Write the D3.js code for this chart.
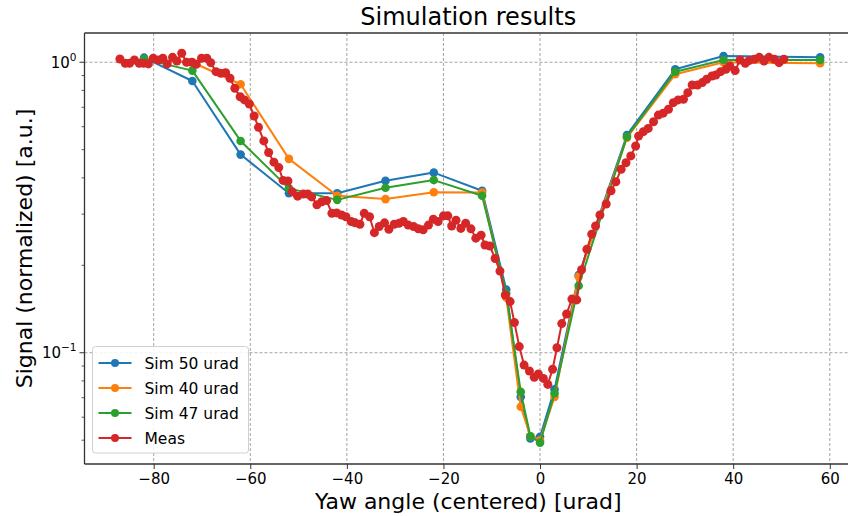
<!DOCTYPE html>
<html>
<head>
<meta charset="utf-8">
<script src="https://cdn.jsdelivr.net/npm/d3@7"></script>
<style>
  html, body { margin: 0; padding: 0; background: #fff; }
  svg { display: block; font-family: "DejaVu Sans", sans-serif; }
</style>
</head>
<body>
<svg id="chart" width="848" height="516"></svg>
<script>
// ---------------- data ----------------
const xTicks = [-80, -60, -40, -20, 0, 20, 40, 60];
const yMajorTicks = [0.1, 1];
const yMajorLabels = [["10", "−1"], ["10", "0"]];
const yMinorTicks = [0.05, 0.06, 0.07, 0.08, 0.09, 0.2, 0.3, 0.4, 0.5, 0.6, 0.7, 0.8, 0.9];

const simX = [-82, -72, -62, -52, -42, -32, -22, -12, -7, -4, -2, 0, 3, 8, 18, 28, 38, 58];
const sim50 = [1.037, 0.862, 0.481, 0.354, 0.354, 0.391, 0.417, 0.361, 0.165, 0.0705, 0.0507, 0.0514, 0.0748, 0.185, 0.562, 0.946, 1.051, 1.040];
const sim40 = [1.020, 1.000, 0.840, 0.465, 0.347, 0.338, 0.357, 0.356, 0.155, 0.0652, 0.0516, 0.0500, 0.0705, 0.183, 0.550, 0.909, 1.000, 0.992];
const sim47 = [1.025, 0.936, 0.536, 0.368, 0.336, 0.370, 0.393, 0.347, 0.160, 0.0734, 0.0516, 0.0490, 0.0725, 0.170, 0.554, 0.928, 1.018, 1.018];

const measX = [
  -87.0, -85.9, -85.0, -84.0, -83.0, -82.1, -81.1, -80.1, -79.0, -78.1,
  -77.2, -76.1, -75.2, -74.2, -73.2, -72.1, -71.2, -70.1, -69.0, -68.2,
  -67.1, -66.1, -65.1, -64.2, -63.2, -62.1, -61.2, -60.2, -59.2, -58.3,
  -57.2, -56.2, -55.1, -54.1, -53.2, -52.2, -51.3, -50.2, -49.0, -48.1,
  -47.3, -46.2, -45.2, -44.2, -43.1, -42.1, -41.1, -40.2, -39.1, -38.3,
  -37.3, -36.4, -35.3, -34.3, -33.3, -32.2, -31.3, -30.2, -29.2, -28.3,
  -27.3, -26.2, -25.2, -24.2, -23.1, -22.1, -21.1, -20.0, -19.1, -18.3,
  -17.4, -16.4, -15.4, -14.3, -13.3, -12.2, -11.4, -10.4, -9.3, -8.3,
  -7.2, -6.2, -5.3, -4.3, -3.3, -2.2, -1.2, -0.35, 0.7, 1.6,
  2.6, 3.5, 4.5, 5.5, 6.6, 7.6, 8.6, 9.7, 10.7, 11.5,
  12.4, 13.7, 14.7, 15.7, 16.8, 17.8, 18.8, 19.8, 20.4, 21.4,
  22.4, 23.5, 24.5, 25.5, 26.6, 27.6, 28.6, 29.7, 30.6, 31.5,
  32.6, 33.6, 34.5, 35.6, 36.4, 37.4, 38.5, 39.3, 40.4, 41.4,
  42.5, 43.3, 44.4, 45.4, 46.4, 47.4, 48.5, 49.5, 50.5
];
const measY = [
  1.026, 0.992, 0.992, 1.018, 0.992, 0.992, 0.987, 1.032, 1.018, 1.032,
  0.987, 1.040, 1.010, 1.074, 1.000, 1.000, 0.984, 1.032, 1.032, 0.997,
  0.928, 0.916, 0.921, 0.881, 0.814, 0.761, 0.742, 0.718, 0.653, 0.597,
  0.536, 0.489, 0.453, 0.434, 0.392, 0.390, 0.358, 0.346, 0.352, 0.352,
  0.344, 0.323, 0.331, 0.334, 0.302, 0.303, 0.298, 0.294, 0.283, 0.280,
  0.277, 0.302, 0.294, 0.259, 0.272, 0.280, 0.266, 0.277, 0.279, 0.283,
  0.275, 0.272, 0.267, 0.265, 0.275, 0.288, 0.283, 0.296, 0.296, 0.273,
  0.286, 0.268, 0.279, 0.267, 0.248, 0.254, 0.235, 0.233, 0.211, 0.191,
  0.158, 0.150, 0.127, 0.105, 0.0907, 0.0865, 0.0823, 0.0845, 0.0816, 0.0778,
  0.0877, 0.104, 0.126, 0.136, 0.153, 0.152, 0.193, 0.227, 0.256, 0.273,
  0.298, 0.325, 0.361, 0.388, 0.428, 0.451, 0.476, 0.515, 0.557, 0.577,
  0.592, 0.624, 0.658, 0.668, 0.689, 0.726, 0.742, 0.746, 0.786, 0.835,
  0.835, 0.851, 0.874, 0.897, 0.904, 0.928, 0.946, 0.971, 0.936, 1.018,
  0.992, 1.013, 1.024, 1.040, 1.010, 1.040, 1.024, 0.997, 1.024
];

const seriesNames = ["Sim 50 urad", "Sim 40 urad", "Sim 47 urad", "Meas"];
const seriesColors = ["#1f77b4", "#ff7f0e", "#2ca02c", "#d62728"];

const titleText = "Simulation results";
const xLabelText = "Yaw angle (centered) [urad]";
const yLabelText = "Signal (normalized) [a.u.]";

// ---------------- layout ----------------
const plot = { left: 84.5, right: 852, top: 33, bottom: 464 };
const svg = d3.select("#chart");

const x = d3.scaleLinear().domain([-94.33, 64.6]).range([plot.left, plot.right]);
const y = d3.scaleLog().domain([0.0414, 1.261]).range([plot.bottom, plot.top]);

const series = [
  { name: seriesNames[0], color: seriesColors[0], pts: simX.map((v, i) => [v, sim50[i]]), r: 4.3 },
  { name: seriesNames[1], color: seriesColors[1], pts: simX.map((v, i) => [v, sim40[i]]), r: 4.3 },
  { name: seriesNames[2], color: seriesColors[2], pts: simX.map((v, i) => [v, sim47[i]]), r: 4.3 },
  { name: seriesNames[3], color: seriesColors[3], pts: measX.map((v, i) => [v, measY[i]]), r: 4.5 }
];

// grid
const grid = svg.append("g").attr("stroke", "#8c8c8c").attr("stroke-width", 0.8).attr("stroke-dasharray", "3,2");
grid.selectAll("line.gx").data(xTicks).join("line")
  .attr("x1", d => x(d)).attr("x2", d => x(d))
  .attr("y1", plot.top).attr("y2", plot.bottom);
grid.selectAll("line.gy").data(yMajorTicks).join("line")
  .attr("x1", plot.left).attr("x2", plot.right)
  .attr("y1", d => y(d)).attr("y2", d => y(d));

// series
const line = d3.line().x(d => x(d[0])).y(d => y(d[1]));
series.forEach(s => {
  const g = svg.append("g");
  g.append("path").datum(s.pts).attr("d", line)
    .attr("fill", "none").attr("stroke", s.color).attr("stroke-width", 2)
    .attr("stroke-linejoin", "round");
  g.selectAll("circle").data(s.pts).join("circle")
    .attr("cx", d => x(d[0])).attr("cy", d => y(d[1])).attr("r", s.r)
    .attr("fill", s.color);
});

// axes
const xAxis = d3.axisBottom(x).tickValues(xTicks).tickSize(5).tickPadding(4)
  .tickFormat(d => d < 0 ? "−" + Math.abs(d) : String(d));
const gx = svg.append("g").attr("transform", `translate(0,${plot.bottom})`).call(xAxis);
gx.select(".domain").remove();
gx.selectAll("text").attr("font-size", 15).attr("fill", "#000").attr("font-family", "DejaVu Sans");
gx.selectAll("line").attr("stroke", "#333").attr("stroke-width", 1);

const gy = svg.append("g").attr("transform", `translate(${plot.left},0)`);
gy.selectAll("line.major").data(yMajorTicks).join("line").attr("class", "major")
  .attr("x1", 0).attr("x2", -5).attr("y1", d => y(d)).attr("y2", d => y(d))
  .attr("stroke", "#333").attr("stroke-width", 1);
gy.selectAll("line.minor").data(yMinorTicks).join("line").attr("class", "minor")
  .attr("x1", 0).attr("x2", -3).attr("y1", d => y(d)).attr("y2", d => y(d))
  .attr("stroke", "#333").attr("stroke-width", 0.8);
const yl = gy.selectAll("text.ylab").data(yMajorTicks).join("text").attr("class", "ylab")
  .attr("x", -8).attr("y", d => y(d) + 5.5)
  .attr("text-anchor", "end").attr("font-size", 15).attr("fill", "#000");
yl.each(function(d, i) {
  const t = d3.select(this);
  t.append("tspan").text(yMajorLabels[i][0]);
  t.append("tspan").attr("dy", -7).attr("font-size", 10.5).text(yMajorLabels[i][1]);
});

// spines
svg.append("line").attr("x1", plot.left).attr("x2", plot.left).attr("y1", plot.top).attr("y2", plot.bottom)
  .attr("stroke", "#333").attr("stroke-width", 1.3);
svg.append("line").attr("x1", plot.left).attr("x2", plot.right).attr("y1", plot.bottom).attr("y2", plot.bottom)
  .attr("stroke", "#333").attr("stroke-width", 1.3);
svg.append("line").attr("x1", plot.left).attr("x2", plot.right).attr("y1", plot.top).attr("y2", plot.top)
  .attr("stroke", "#333").attr("stroke-width", 1.3);

// labels
svg.append("text").attr("x", (plot.left + plot.right) / 2).attr("y", 25)
  .attr("text-anchor", "middle").attr("font-size", 24).attr("fill", "#000").text(titleText);
svg.append("text").attr("x", (plot.left + plot.right) / 2).attr("y", 509)
  .attr("text-anchor", "middle").attr("font-size", 22).attr("fill", "#000").text(xLabelText);
svg.append("text").attr("transform", `translate(32,${(plot.top + plot.bottom) / 2}) rotate(-90)`)
  .attr("text-anchor", "middle").attr("font-size", 22).attr("fill", "#000").text(yLabelText);

// legend
const lg = svg.append("g").attr("transform", "translate(92.5,346.5)");
lg.append("rect").attr("width", 156).attr("height", 106.5).attr("rx", 3)
  .attr("fill", "#fff").attr("fill-opacity", 0.85).attr("stroke", "#d0d0d0").attr("stroke-width", 1);
series.forEach((s, i) => {
  const row = lg.append("g").attr("transform", `translate(0,${16.5 + i * 25})`);
  row.append("line").attr("x1", 6).attr("x2", 39).attr("y1", 0).attr("y2", 0)
    .attr("stroke", s.color).attr("stroke-width", 2);
  row.append("circle").attr("cx", 22.5).attr("cy", 0).attr("r", 4).attr("fill", s.color);
  row.append("text").attr("x", 52).attr("y", 5.5).attr("font-size", 15.5).attr("fill", "#000").text(s.name);
});
</script>
</body>
</html>
